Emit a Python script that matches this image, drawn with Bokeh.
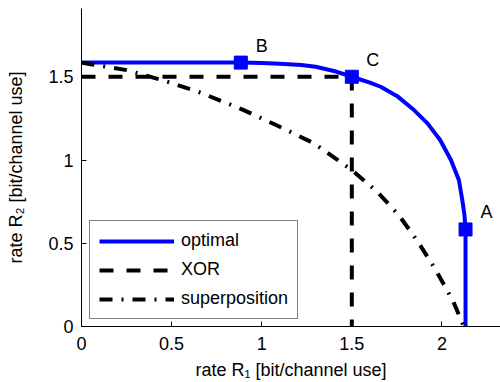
from bokeh.plotting import figure
from bokeh.models import Range1d, FixedTicker, NumeralTickFormatter, ColumnDataSource
from bokeh.core.properties import value
from bokeh.embed import file_html
from bokeh.resources import INLINE

# ---- data ----
opt_r1 = [0.0, 0.884, 1.0, 1.1, 1.22, 1.3, 1.4, 1.5, 1.6, 1.66, 1.75, 1.845, 1.92, 1.99, 2.05, 2.094, 2.113, 2.125, 2.131, 2.131]
opt_r2 = [1.585, 1.585, 1.583, 1.578, 1.57, 1.56, 1.535, 1.5, 1.465, 1.44, 1.385, 1.30, 1.22, 1.12, 1.0, 0.88, 0.76, 0.67, 0.583, 0.0]

xor_r1 = [0.0, 1.5, 1.5]
xor_r2 = [1.5, 1.5, 0.0]

sup_r1 = [0.0, 0.05, 0.25, 0.46, 0.66, 0.9, 1.1, 1.29, 1.5, 1.64, 1.76, 1.86, 1.96, 2.06, 2.122]
sup_r2 = [1.585, 1.575, 1.54, 1.476, 1.405, 1.30, 1.20, 1.10, 0.94, 0.81, 0.67, 0.52, 0.35, 0.157, 0.0]

pt_names = ["A", "B", "C"]
pt_r1 = [2.131, 0.884, 1.5]
pt_r2 = [0.583, 1.585, 1.5]

x_ticks = [0, 0.5, 1, 1.5, 2]
y_ticks = [0, 0.5, 1, 1.5]

FONT = "Liberation Sans"
FS = "18px"

p = figure(width=500, height=382, output_backend="svg", toolbar_location=None,
           x_range=Range1d(0, 2.325), y_range=Range1d(0, 1.91),
           min_border_left=81, min_border_right=0, min_border_top=8, min_border_bottom=56)
p.outline_line_color = None
p.xgrid.visible = False
p.ygrid.visible = False

for ax in (p.xaxis[0], p.yaxis[0]):
    ax.major_tick_in = 5
    ax.major_tick_out = 0
    ax.minor_tick_line_color = None
    ax.axis_line_color = "black"
    ax.major_tick_line_color = "black"
    ax.major_label_text_font = FONT
    ax.major_label_text_font_size = FS
    ax.major_label_text_color = "black"
    ax.axis_label_text_font = FONT
    ax.axis_label_text_font_size = FS
    ax.axis_label_text_font_style = "normal"
    ax.axis_label_text_color = "black"
    ax.formatter = NumeralTickFormatter(format="0.[0]")

p.xaxis[0].ticker = FixedTicker(ticks=x_ticks)
p.yaxis[0].ticker = FixedTicker(ticks=y_ticks)
p.xaxis[0].axis_label = "rate R\u2081 [bit/channel use]"
p.yaxis[0].axis_label = "rate R\u2082 [bit/channel use]"
p.xaxis[0].major_label_standoff = 10
p.xaxis[0].axis_label_standoff = 7
p.yaxis[0].major_label_standoff = 8
p.yaxis[0].axis_label_standoff = 19

p.line(opt_r1, opt_r2, line_color="#0000ff", line_width=4, legend_label="optimal")
p.line(xor_r1, xor_r2, line_color="black", line_width=4, line_dash="14 13", legend_label="XOR")
p.line(sup_r1, sup_r2, line_color="black", line_width=4, line_dash="13 9 2 9", legend_label="superposition")

src = ColumnDataSource(dict(x=pt_r1, y=pt_r2, t=pt_names))
p.scatter("x", "y", source=src, marker="square", size=13, fill_color="#0000ff", line_color="#0000ff")
p.text("x", "y", text="t", source=src, x_offset=21, y_offset=-17, text_align="center",
       text_baseline="middle", text_font=value(FONT), text_font_size=FS, text_color="black")

lg = p.legend[0]
lg.location = (8, 7)
lg.border_line_color = "black"
lg.border_line_width = 1.2
lg.background_fill_color = "white"
lg.background_fill_alpha = 1.0
lg.padding = 9
lg.spacing = 8
lg.margin = 0
lg.glyph_width = 75
lg.glyph_height = 16
lg.label_height = 16
lg.label_standoff = 7
lg.label_text_font = FONT
lg.label_text_font_size = FS
lg.label_text_color = "black"

open("out.html", "w").write(file_html(p, INLINE))
